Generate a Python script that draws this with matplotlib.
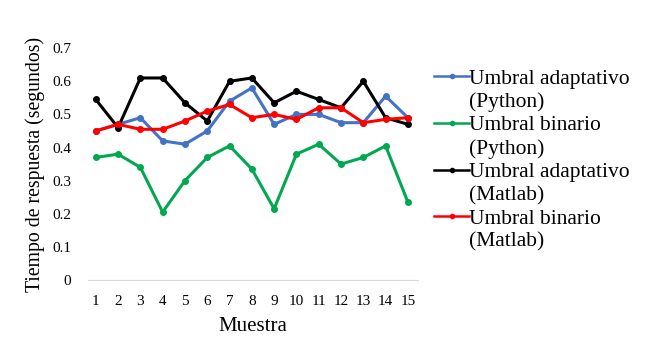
import matplotlib.pyplot as plt
from matplotlib.lines import Line2D

plt.rcParams['font.family'] = ['Liberation Serif', 'DejaVu Serif']

muestras = list(range(1, 16))
adapt_python = [0.45, 0.47, 0.49, 0.42, 0.41, 0.45, 0.54, 0.58, 0.47, 0.50, 0.50, 0.475, 0.475, 0.555, 0.49]
binario_python = [0.37, 0.38, 0.34, 0.205, 0.30, 0.37, 0.405, 0.335, 0.215, 0.38, 0.41, 0.35, 0.37, 0.405, 0.235]
adapt_matlab = [0.545, 0.46, 0.61, 0.61, 0.535, 0.48, 0.60, 0.61, 0.535, 0.57, 0.545, 0.52, 0.60, 0.49, 0.47]
binario_matlab = [0.45, 0.47, 0.455, 0.455, 0.48, 0.51, 0.53, 0.49, 0.50, 0.485, 0.52, 0.52, 0.475, 0.485, 0.49]

series = [
    (adapt_python, '#4472C4', 'Umbral adaptativo', '(Python)'),
    (binario_python, '#00A850', 'Umbral binario', '(Python)'),
    (adapt_matlab, 'black', 'Umbral adaptativo', '(Matlab)'),
    (binario_matlab, '#FF0000', 'Umbral binario', '(Matlab)'),
]

fig = plt.figure(figsize=(6.5, 3.44), dpi=100)
ax = fig.add_axes([0.135, 0.186, 0.508, 0.674])

handles, labels = [], []
for vals, c, lab1, lab2 in series:
    ax.plot(muestras, vals, color=c, lw=2.2, marker='o', ms=4)
    # handle sits on the first text line, second line gets an empty handle
    handles.append(Line2D([], [], color=c, lw=1.8, marker='o', ms=3))
    labels.append(lab1)
    handles.append(Line2D([], [], color='none'))
    labels.append(lab2)

ax.set_xlim(0.64, 15.45)
ax.set_ylim(0, 0.7)
ax.set_xticks(muestras)
ax.set_yticks([0, 0.1, 0.2, 0.3, 0.4, 0.5, 0.6, 0.7])
ax.set_yticklabels(['0', '0.1', '0.2', '0.3', '0.4', '0.5', '0.6', '0.7'])
ax.tick_params(length=0, labelsize=11)
ax.tick_params(axis='x', pad=11)
ax.tick_params(axis='y', pad=12)

for s in ['top', 'right', 'left']:
    ax.spines[s].set_visible(False)
ax.spines['bottom'].set_color('#D9D9D9')

ax.set_xlabel('Muestra', fontsize=15, labelpad=6)
ax.set_ylabel('Tiempo de respuesta (segundos)', fontsize=14.2, labelpad=5)

fig.legend(handles, labels, loc='upper left', bbox_to_anchor=(0.668, 0.80),
           frameon=False, fontsize=15.5, handlelength=1.63, handletextpad=0.0,
           labelspacing=0.15, borderaxespad=0, borderpad=0)

fig.savefig('out.png', dpi=100)
